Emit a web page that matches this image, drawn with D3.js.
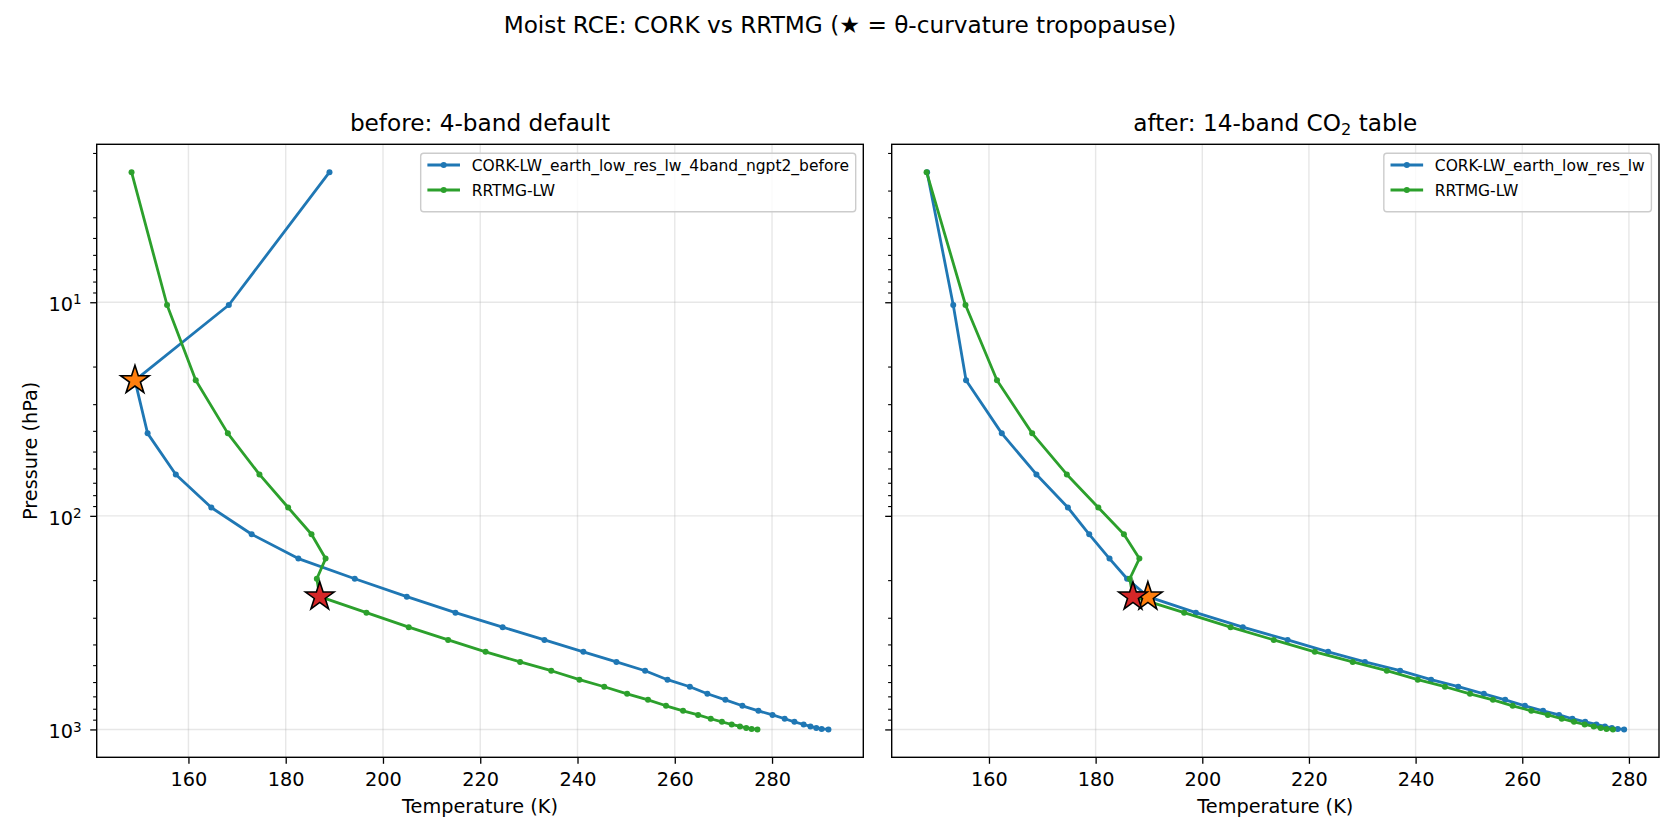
<!DOCTYPE html>
<html>
<head>
<meta charset="utf-8">
<script src="https://cdn.jsdelivr.net/npm/d3@7"></script>
<style>
  body { margin: 0; background: #fff; }
  svg text { font-family: 'DejaVu Sans', sans-serif; fill: #000; }
</style>
</head>
<body>
<svg id="chart" width="1680" height="840"></svg>
<script>
// pressure levels (hPa), shared by every profile
const levels = [2.46, 10.3, 23.2, 41.1, 64, 91.4, 122, 158.5, 197, 239, 284, 332, 381, 433, 483,
  531, 585, 631, 681, 727, 775, 818, 855, 891, 921, 948, 968, 984, 994, 1000]

// temperatures (K)
const corkBefore = [189.0, 168.3, 149.0, 151.6, 157.4, 164.7, 173.0, 182.6, 194.2, 204.9, 214.9,
  224.6, 233.2, 241.2, 248.0, 253.9, 258.5, 263.1, 266.7, 270.4, 273.9, 277.2, 280.1, 282.6,
  284.6, 286.5, 287.9, 289.1, 290.2, 291.6]
const corkAfter = [148.4, 153.3, 155.7, 162.4, 168.9, 174.8, 178.8, 182.6, 185.9, 189.8, 198.8,
  207.6, 216.0, 223.6, 230.5, 237.1, 242.9, 248.0, 252.8, 256.8, 260.5, 263.9, 266.9, 269.4,
  271.8, 273.9, 275.5, 276.8, 277.9, 279.1]
const rrtmg = [148.3, 155.6, 161.5, 168.1, 174.6, 180.5, 185.3, 188.2, 186.4, 187.0, 196.6,
  205.3, 213.4, 221.1, 228.2, 234.6, 240.4, 245.5, 250.2, 254.5, 258.2, 261.7, 264.8, 267.4,
  269.7, 271.7, 273.4, 274.7, 275.8, 277.0]

// index of the theta-curvature tropopause in each profile
const tropBefore = 2
const tropAfter = 9
const tropRrtmg = 9

const xTicks = [160, 180, 200, 220, 240, 260, 280]
const yTicks = [10, 100, 1000]
const corkLabels = ['CORK-LW_earth_low_res_lw_4band_ngpt2_before', 'CORK-LW_earth_low_res_lw']
const rrtmgLabel = 'RRTMG-LW'

const colors = { cork: '#1f77b4', rrtmg: '#2ca02c', corkStar: '#ff7f0e', rrtmgStar: '#d62728' }

const svg = d3.select('#chart')
const plotTop = 144.3, plotBottom = 757.3

svg.append('text')
  .attr('x', 840).attr('y', 33.3)
  .attr('text-anchor', 'middle').attr('font-size', 23.2)
  .text('Moist RCE: CORK vs RRTMG (\u2605 = \u03b8-curvature tropopause)')

// y scale is shared (sharey)
const lp = levels.map(Math.log10)
const lpad = (d3.max(lp) - d3.min(lp)) * 0.05
const y = d3.scaleLog()
  .domain([10 ** (d3.min(lp) - lpad), 10 ** (d3.max(lp) + lpad)])
  .range([plotTop, plotBottom])

const minorTicks = []
;[1, 10, 100, 1000].forEach(b => d3.range(2, 10).forEach(m => {
  const v = b * m
  if (v >= y.domain()[0] && v <= y.domain()[1]) minorTicks.push(v)
}))

const panels = [
  { x0: 96.7, x1: 863.3, cork: corkBefore, trop: tropBefore, label: corkLabels[0], title: 'before: 4-band default', yLabels: true },
  { x0: 891.7, x1: 1659, cork: corkAfter, trop: tropAfter, label: corkLabels[1], title: 'after: 14-band CO', sub: '2', tail: ' table', yLabels: false }
]

panels.forEach(p => drawPanel(p))

function drawPanel(p) {
  const all = p.cork.concat(rrtmg)
  const ext = d3.extent(all)
  const pad = (ext[1] - ext[0]) * 0.05
  const x = d3.scaleLinear().domain([ext[0] - pad, ext[1] + pad]).range([p.x0, p.x1])
  const g = svg.append('g')

  // grid
  g.append('g').selectAll('line').data(xTicks).join('line')
    .attr('x1', d => x(d)).attr('x2', d => x(d)).attr('y1', plotTop).attr('y2', plotBottom)
    .attr('stroke', '#b0b0b0').attr('stroke-opacity', 0.3).attr('stroke-width', 1.4)
  g.append('g').selectAll('line').data(yTicks).join('line')
    .attr('x1', p.x0).attr('x2', p.x1).attr('y1', d => y(d)).attr('y2', d => y(d))
    .attr('stroke', '#b0b0b0').attr('stroke-opacity', 0.3).attr('stroke-width', 1.4)

  // axes
  const xAxis = g.append('g').attr('transform', `translate(0,${plotBottom})`)
    .call(d3.axisBottom(x).tickValues(xTicks).tickSize(6.5).tickSizeOuter(0).tickPadding(9).tickFormat(d3.format('d')))
  xAxis.select('.domain').remove()
  xAxis.selectAll('text').attr('font-size', 19.3).attr('font-family', 'DejaVu Sans')
  xAxis.selectAll('line').attr('stroke', '#000').attr('stroke-width', 1.3)

  const yAxis = g.append('g').attr('transform', `translate(${p.x0},0)`)
    .call(d3.axisLeft(y).tickValues(yTicks).tickSize(6.5).tickSizeOuter(0).tickFormat(''))
  yAxis.select('.domain').remove()
  yAxis.selectAll('line').attr('stroke', '#000').attr('stroke-width', 1.3)
  const yMinor = g.append('g').attr('transform', `translate(${p.x0},0)`)
    .call(d3.axisLeft(y).tickValues(minorTicks).tickSize(3.6).tickSizeOuter(0).tickFormat(''))
  yMinor.select('.domain').remove()
  yMinor.selectAll('line').attr('stroke', '#000').attr('stroke-width', 1.1)

  if (p.yLabels) {
    const t = g.append('g').selectAll('text').data(yTicks).join('text')
      .attr('x', p.x0 - 15).attr('y', d => y(d) + 9)
      .attr('text-anchor', 'end').attr('font-size', 19.3)
    t.append('tspan').text('10')
    t.append('tspan').attr('font-size', 13.5).attr('dy', -6.8).text(d => Math.round(Math.log10(d)))
    g.append('text')
      .attr('transform', `translate(36.5,${(plotTop + plotBottom) / 2}) rotate(-90)`)
      .attr('text-anchor', 'middle').attr('font-size', 19.3)
      .text('Pressure (hPa)')
  }

  g.append('text')
    .attr('x', (p.x0 + p.x1) / 2).attr('y', 813.3)
    .attr('text-anchor', 'middle').attr('font-size', 19.3)
    .text('Temperature (K)')

  const title = g.append('text')
    .attr('x', (p.x0 + p.x1) / 2).attr('y', 130.7)
    .attr('text-anchor', 'middle').attr('font-size', 23.2)
  title.append('tspan').text(p.title)
  if (p.sub) {
    title.append('tspan').attr('font-size', 16.2).attr('dy', 4.5).text(p.sub)
    title.append('tspan').attr('dy', -4.5).text(p.tail)
  }

  // profiles
  const line = d3.line().x(d => x(d[0])).y(d => y(d[1]))
  const series = [
    { temps: p.cork, color: colors.cork },
    { temps: rrtmg, color: colors.rrtmg }
  ]
  series.forEach(s => {
    const pts = d3.zip(s.temps, levels)
    g.append('path').datum(pts)
      .attr('d', line).attr('fill', 'none')
      .attr('stroke', s.color).attr('stroke-width', 2.8).attr('stroke-linejoin', 'round')
    g.append('g').selectAll('circle').data(pts).join('circle')
      .attr('cx', d => x(d[0])).attr('cy', d => y(d[1])).attr('r', 3)
      .attr('fill', s.color)
  })

  // tropopause stars
  const star = d3.symbol().type(d3.symbolStar).size(253)
  const stars = [
    { t: p.cork[p.trop], p: levels[p.trop], color: colors.corkStar },
    { t: rrtmg[tropRrtmg], p: levels[tropRrtmg], color: colors.rrtmgStar }
  ]
  g.append('g').selectAll('path').data(stars).join('path')
    .attr('d', star)
    .attr('transform', d => `translate(${x(d.t)},${y(d.p)})`)
    .attr('fill', d => d.color).attr('stroke', '#000').attr('stroke-width', 1.6)
    .attr('stroke-linejoin', 'miter')

  // spines
  g.append('rect')
    .attr('x', p.x0).attr('y', plotTop).attr('width', p.x1 - p.x0).attr('height', plotBottom - plotTop)
    .attr('fill', 'none').attr('stroke', '#000').attr('stroke-width', 1.4)

  // legend
  const leg = g.append('g')
  const box = leg.append('rect')
  const items = [
    { label: p.label, color: colors.cork },
    { label: rrtmgLabel, color: colors.rrtmg }
  ]
  const rows = leg.selectAll('g.item').data(items).join('g').attr('class', 'item')
  const texts = rows.append('text').attr('font-size', 15.5).text(d => d.label)
  const tw = d3.max(texts.nodes(), n => n.getComputedTextLength())
  const bw = 51 + tw + 6.7
  const bx = p.x1 - 7.6 - bw
  const by = plotTop + 9
  box.attr('x', bx).attr('y', by).attr('width', bw).attr('height', 58.4)
    .attr('rx', 3).attr('fill', '#fff').attr('fill-opacity', 0.8)
    .attr('stroke', '#cccccc').attr('stroke-width', 1.4)
  rows.attr('transform', (d, i) => `translate(${bx},${by + 11.7 + i * 25})`)
  rows.append('line')
    .attr('x1', 6.7).attr('x2', 39.3).attr('y1', 0).attr('y2', 0)
    .attr('stroke', d => d.color).attr('stroke-width', 2.8)
  rows.append('circle').attr('cx', 23).attr('cy', 0).attr('r', 3).attr('fill', d => d.color)
  texts.attr('x', 51).attr('y', 5.5)
}
</script>
</body>
</html>
